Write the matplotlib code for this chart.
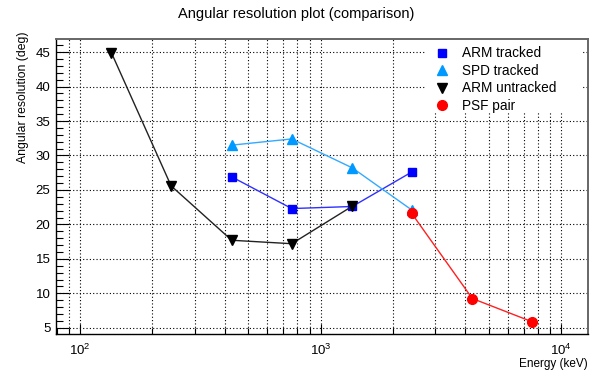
import numpy as np
from matplotlib import pyplot as plt
from matplotlib.patches import Rectangle
from matplotlib.ticker import LogLocator, MultipleLocator, NullFormatter

plt.rcParams['font.family'] = ['Liberation Sans', 'DejaVu Sans']
plt.rcParams['mathtext.fontset'] = 'custom'
plt.rcParams['mathtext.rm'] = 'Liberation Sans'
plt.rcParams['mathtext.it'] = 'Liberation Sans'

# energies in keV, resolution in degrees
arm_tracked_e = [427, 759, 1356, 2394]
arm_tracked_res = [26.9, 22.3, 22.6, 27.6]

spd_tracked_e = [427, 759, 1356, 2394]
spd_tracked_res = [31.5, 32.4, 28.2, 22.1]

arm_untracked_e = [135, 239, 427, 759, 1356]
arm_untracked_res = [44.9, 25.6, 17.7, 17.2, 22.65]

psf_pair_e = [2394, 4277, 7551]
psf_pair_res = [21.6, 9.25, 5.9]

x_ticks = [100, 1000, 10000]
x_ticklabels = [r'$10^{2}$', r'$10^{3}$', r'$10^{4}$']

fig = plt.figure(figsize=(5.92, 3.76), dpi=100)
ax = fig.add_axes([56 / 592, 1 - 334 / 376, 532 / 592, 295 / 376])

ax.set_xscale('log')
ax.set_xlim(79.4, 12950)
ax.set_ylim(4.1, 46.9)

# grid on every decade multiple along x, every 5 deg along y
for e in [90] + [m * 10 ** d for d in (2, 3) for m in range(1, 10)] + [10000]:
    ax.axvline(e, color='black', lw=0.8, ls=(0, (1, 2)), zorder=0)
for r in range(5, 46, 5):
    ax.axhline(r, color='black', lw=0.8, ls=(0, (1, 2)), zorder=0)

ax.plot(arm_tracked_e, arm_tracked_res, color='#3030ff', lw=1.0, marker='s',
        ms=6, mfc='#0000ff', mec='#0000ff', label='ARM tracked', zorder=3)
ax.plot(spd_tracked_e, spd_tracked_res, color='#33aaff', lw=1.0, marker='^',
        ms=7, mfc='#0099ff', mec='#0099ff', label='SPD tracked', zorder=3)
ax.plot(arm_untracked_e, arm_untracked_res, color='#222222', lw=1.0, marker='v',
        ms=7, mfc='black', mec='black', label='ARM untracked', zorder=3)
ax.plot(psf_pair_e, psf_pair_res, color='#ff2020', lw=1.0, marker='o',
        ms=7, mfc='red', mec='red', label='PSF pair', zorder=4)

ax.set_xticks(x_ticks)
ax.set_xticklabels(x_ticklabels)
ax.xaxis.set_minor_locator(LogLocator(base=10, subs=np.arange(2, 10)))
ax.xaxis.set_minor_formatter(NullFormatter())
ax.yaxis.set_major_locator(MultipleLocator(5))
ax.yaxis.set_minor_locator(MultipleLocator(1))

ax.tick_params(which='both', direction='in', top=False, right=False,
               labelsize=9.5, color='black')
ax.tick_params(axis='y', which='major', length=9, width=0.8, pad=4)
ax.tick_params(axis='y', which='minor', length=5, width=0.8)
ax.tick_params(axis='x', which='major', length=7, width=0.8, pad=6)
ax.tick_params(axis='x', which='minor', length=4, width=0.8)

for side in ('left', 'bottom'):
    ax.spines[side].set_color('black')
    ax.spines[side].set_linewidth(1.0)
for side in ('top', 'right'):
    ax.spines[side].set_color('#666666')
    ax.spines[side].set_linewidth(1.4)

ax.set_ylabel('Angular resolution (deg)', fontsize=8.8, loc='top')
ax.yaxis.set_label_coords(-0.0505, 1.024)
ax.set_xlabel('Energy (keV)', fontsize=8.5, loc='right', labelpad=0)

fig.text(0.5, 1 - 14 / 376, 'Angular resolution plot (comparison)',
         ha='center', va='center', fontsize=10.5)

# white legend box, no border
ax.add_patch(Rectangle((0.694, 0.749), 0.297, 0.251, transform=ax.transAxes,
                       facecolor='white', edgecolor='none', zorder=1))
leg = ax.legend(loc='upper left', bbox_to_anchor=(0.698, 1.0), frameon=False,
                fontsize=9.8, handlelength=1.0, handletextpad=1.0,
                labelspacing=0.25, borderaxespad=0.15)
for h in leg.legend_handles:
    h.set_linestyle('None')

plt.savefig('out.png', dpi=100)
